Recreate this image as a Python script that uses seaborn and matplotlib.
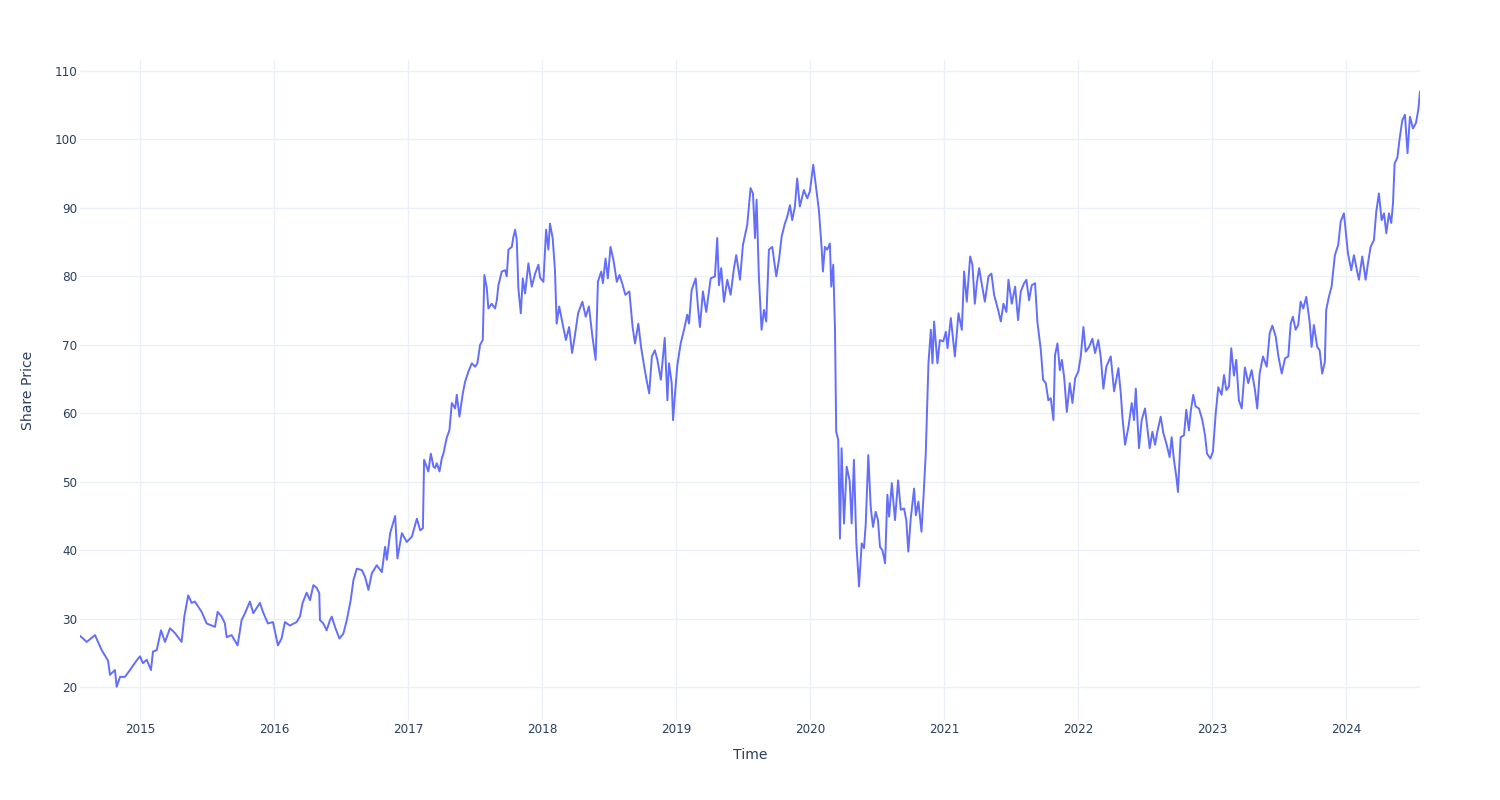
import numpy as np
import pandas as pd
import matplotlib
matplotlib.use("Agg")
import matplotlib.pyplot as plt
import matplotlib.dates as mdates
import seaborn as sns

# Decimal-year time stamps and share prices
year_2014 = [0.552, 0.602, 0.664, 0.714, 0.761, 0.776, 0.813, 0.826, 0.851, 0.888, 0.925, 0.975]
price_2014 = [27.5, 26.6, 27.6, 25.4, 23.9, 21.8, 22.5, 20.05, 21.5, 21.5, 22.5, 23.9]

year_2015 = [0.000, 0.022, 0.050, 0.082, 0.097, 0.125, 0.157, 0.187, 0.224, 0.261, 0.311, 0.331,
             0.360, 0.386, 0.410, 0.460, 0.498, 0.560, 0.580, 0.610, 0.634, 0.647, 0.684, 0.729,
             0.759, 0.784, 0.821, 0.846, 0.896, 0.918, 0.955, 0.993]
price_2015 = [24.5, 23.5, 24.0, 22.5, 25.2, 25.4, 28.3, 26.6, 28.6, 27.9, 26.6, 30.3,
              33.4, 32.3, 32.5, 31.0, 29.3, 28.8, 31.0, 30.3, 29.3, 27.3, 27.6, 26.1,
              29.8, 30.8, 32.5, 30.8, 32.3, 31.0, 29.3, 29.5]

year_2016 = [0.030, 0.057, 0.082, 0.119, 0.169, 0.194, 0.214, 0.244, 0.269, 0.294, 0.319, 0.338,
             0.343, 0.368, 0.393, 0.418, 0.431, 0.455, 0.488, 0.517, 0.543, 0.572, 0.592, 0.617,
             0.655, 0.679, 0.704, 0.729, 0.766, 0.804, 0.828, 0.841, 0.866, 0.903, 0.920, 0.953, 0.990]
price_2016 = [26.1, 27.1, 29.5, 29.0, 29.5, 30.3, 32.3, 33.8, 32.7, 34.9, 34.5, 33.7,
              29.8, 29.3, 28.3, 29.8, 30.3, 28.8, 27.1, 27.8, 29.8, 32.7, 35.6, 37.3,
              37.1, 36.1, 34.2, 36.6, 37.8, 36.8, 40.5, 38.6, 42.5, 45.0, 38.8, 42.5, 41.2]

year_2017 = [0.028, 0.065, 0.090, 0.110, 0.119, 0.151, 0.169, 0.189, 0.201, 0.214, 0.234, 0.251,
             0.263, 0.289, 0.308, 0.326, 0.351, 0.363, 0.383, 0.408, 0.425, 0.450, 0.475, 0.500,
             0.517, 0.537, 0.557, 0.569, 0.587, 0.599, 0.624, 0.649, 0.662, 0.674, 0.699, 0.724,
             0.736, 0.749, 0.774, 0.786, 0.799, 0.811, 0.823, 0.841, 0.856, 0.873, 0.898, 0.923,
             0.948, 0.973, 0.985]
price_2017 = [42.0, 44.6, 42.9, 43.2, 53.2, 51.5, 54.1, 52.2, 52.0, 52.7, 51.5, 53.4,
              54.1, 56.5, 57.5, 61.5, 60.7, 62.7, 59.5, 62.9, 64.6, 66.1, 67.3, 66.8,
              67.3, 70.0, 70.7, 80.2, 78.3, 75.3, 76.0, 75.3, 76.5, 78.7, 80.7, 80.9,
              80.0, 83.9, 84.3, 85.8, 86.8, 85.3, 78.3, 74.6, 79.7, 77.5, 81.9, 78.5,
              80.4, 81.7, 79.8]

year_2018 = [0.010, 0.030, 0.047, 0.059, 0.079, 0.096, 0.109, 0.128, 0.153, 0.178, 0.202, 0.224,
             0.244, 0.269, 0.301, 0.326, 0.350, 0.376, 0.400, 0.417, 0.442, 0.454, 0.474, 0.491,
             0.511, 0.533, 0.558, 0.578, 0.598, 0.622, 0.652, 0.676, 0.694, 0.719, 0.739, 0.763,
             0.780, 0.800, 0.820, 0.842, 0.861, 0.887, 0.916, 0.936, 0.948, 0.968, 0.978, 0.993]
price_2018 = [79.2, 86.8, 83.9, 87.7, 85.6, 81.0, 73.1, 75.6, 73.1, 70.7, 72.6, 68.8,
              71.2, 74.6, 76.3, 74.1, 75.6, 71.2, 67.8, 79.2, 80.7, 79.0, 82.6, 79.7,
              84.3, 82.4, 79.2, 80.2, 79.0, 77.3, 77.8, 72.6, 70.2, 73.1, 69.7, 66.8,
              64.9, 62.9, 68.3, 69.2, 67.8, 64.9, 71.0, 61.9, 67.3, 64.4, 59.0, 62.9]

year_2019 = [0.010, 0.035, 0.060, 0.084, 0.097, 0.117, 0.147, 0.166, 0.179, 0.201, 0.226, 0.259,
             0.291, 0.308, 0.321, 0.338, 0.358, 0.383, 0.408, 0.433, 0.450, 0.478, 0.500, 0.532,
             0.557, 0.575, 0.590, 0.602, 0.619, 0.639, 0.657, 0.674, 0.694, 0.719, 0.749, 0.769,
             0.789, 0.813, 0.831, 0.851, 0.868, 0.888, 0.905, 0.925, 0.955, 0.980]
price_2019 = [67.0, 70.2, 72.2, 74.4, 73.1, 78.0, 79.7, 75.1, 72.6, 77.8, 74.8, 79.7,
              80.0, 85.6, 78.7, 81.2, 76.3, 79.5, 77.3, 81.2, 83.1, 79.5, 84.6, 87.5,
              92.9, 92.1, 85.6, 91.2, 80.0, 72.2, 75.1, 73.4, 83.9, 84.3, 80.0, 82.4,
              85.8, 87.7, 88.7, 90.4, 88.2, 90.2, 94.3, 90.2, 92.6, 91.4]

year_2020 = [0.000, 0.025, 0.042, 0.067, 0.087, 0.097, 0.112, 0.129, 0.149, 0.159, 0.174, 0.187,
             0.196, 0.211, 0.224, 0.236, 0.254, 0.274, 0.296, 0.311, 0.328, 0.346, 0.366, 0.386,
             0.403, 0.416, 0.435, 0.453, 0.470, 0.490, 0.507, 0.522, 0.540, 0.560, 0.577, 0.590,
             0.610, 0.634, 0.657, 0.677, 0.701, 0.718, 0.733, 0.751, 0.776, 0.789, 0.808, 0.831,
             0.846, 0.863, 0.883, 0.901, 0.913, 0.925, 0.950, 0.968, 0.993]
price_2020 = [92.4, 96.3, 93.6, 89.7, 84.3, 80.7, 84.3, 83.9, 84.8, 78.5, 81.7, 72.2,
              57.3, 56.1, 41.7, 54.9, 43.9, 52.2, 50.2, 43.9, 53.2, 41.0, 34.7, 41.0,
              40.3, 43.9, 53.9, 46.3, 43.4, 45.6, 44.4, 40.5, 40.0, 38.1, 48.1, 44.9,
              49.8, 44.4, 50.2, 45.9, 46.1, 44.4, 39.8, 44.6, 49.0, 45.1, 47.1, 42.7,
              47.8, 54.1, 67.3, 72.2, 67.3, 73.4, 67.3, 70.7, 70.5]

year_2021 = [0.013, 0.025, 0.050, 0.080, 0.107, 0.132, 0.149, 0.169, 0.194, 0.211, 0.229, 0.244,
             0.261, 0.278, 0.304, 0.331, 0.353, 0.373, 0.403, 0.423, 0.443, 0.465, 0.480, 0.505,
             0.530, 0.552, 0.572, 0.597, 0.614, 0.634, 0.654, 0.679, 0.696, 0.722, 0.739, 0.759,
             0.778, 0.796, 0.816, 0.828, 0.846, 0.864, 0.879, 0.896, 0.916, 0.938, 0.958, 0.978]
price_2021 = [71.9, 69.5, 73.9, 68.3, 74.6, 72.2, 80.7, 76.3, 82.9, 81.7, 76.0, 79.0,
              81.2, 79.2, 76.3, 80.0, 80.4, 77.3, 75.1, 73.4, 76.0, 74.8, 79.5, 76.0,
              78.5, 73.6, 77.8, 79.0, 79.5, 76.5, 78.7, 79.0, 73.4, 69.2, 64.9, 64.4,
              61.9, 62.2, 59.0, 68.5, 70.2, 66.3, 67.8, 65.3, 60.2, 64.4, 61.5, 65.1]

year_2022 = [0.002, 0.020, 0.040, 0.057, 0.082, 0.107, 0.127, 0.151, 0.169, 0.189, 0.211, 0.244,
             0.269, 0.301, 0.319, 0.331, 0.351, 0.376, 0.401, 0.418, 0.431, 0.455, 0.475, 0.500,
             0.535, 0.555, 0.575, 0.592, 0.617, 0.637, 0.659, 0.684, 0.699, 0.716, 0.734, 0.746,
             0.766, 0.791, 0.808, 0.828, 0.841, 0.860, 0.878, 0.903, 0.928, 0.948, 0.963, 0.988]
price_2022 = [66.1, 68.3, 72.6, 69.0, 69.7, 70.9, 68.8, 70.7, 68.3, 63.6, 66.8, 68.3,
              63.2, 66.6, 62.9, 59.5, 55.4, 58.0, 61.5, 59.0, 63.6, 54.9, 59.0, 60.7,
              54.9, 57.3, 55.4, 57.3, 59.5, 57.1, 55.6, 53.6, 56.5, 53.2, 50.7, 48.5,
              56.5, 56.8, 60.5, 57.5, 60.2, 62.7, 61.0, 60.7, 59.0, 56.8, 54.1, 53.4]

year_2023 = [0.007, 0.028, 0.047, 0.072, 0.090, 0.107, 0.127, 0.144, 0.164, 0.181, 0.201, 0.222,
             0.246, 0.271, 0.296, 0.321, 0.338, 0.356, 0.381, 0.409, 0.431, 0.451, 0.476, 0.496,
             0.521, 0.545, 0.570, 0.588, 0.604, 0.625, 0.644, 0.662, 0.682, 0.704, 0.729, 0.744,
             0.761, 0.786, 0.804, 0.823, 0.843, 0.853, 0.873, 0.893, 0.918, 0.943, 0.961, 0.985, 0.998]
price_2023 = [54.4, 60.0, 63.8, 62.7, 65.6, 63.4, 63.9, 69.5, 65.5, 67.8, 61.9, 60.7,
              66.7, 64.4, 66.3, 63.4, 60.7, 65.8, 68.3, 66.8, 71.7, 72.8, 71.2, 68.3,
              65.8, 68.0, 68.3, 73.1, 74.1, 72.2, 72.9, 76.3, 75.3, 77.0, 73.4, 69.7,
              72.9, 69.7, 69.2, 65.8, 67.5, 75.1, 77.0, 78.5, 83.1, 84.6, 88.0, 89.2, 86.8]

year_2024 = [0.015, 0.040, 0.060, 0.077, 0.097, 0.122, 0.147, 0.166, 0.184, 0.209, 0.226, 0.246,
             0.266, 0.284, 0.301, 0.321, 0.338, 0.351, 0.363, 0.383, 0.401, 0.420, 0.440, 0.459,
             0.477, 0.500, 0.522, 0.539, 0.552]
price_2024 = [83.4, 80.9, 83.1, 81.4, 79.5, 82.9, 79.5, 82.1, 84.3, 85.3, 89.4, 92.1,
              88.2, 89.2, 86.3, 89.2, 87.8, 90.7, 96.5, 97.3, 100.2, 102.8, 103.6, 98.0,
              103.3, 101.6, 102.4, 104.3, 107.0]

segments = [(2014, year_2014, price_2014), (2015, year_2015, price_2015),
            (2016, year_2016, price_2016), (2017, year_2017, price_2017),
            (2018, year_2018, price_2018), (2019, year_2019, price_2019),
            (2020, year_2020, price_2020), (2021, year_2021, price_2021),
            (2022, year_2022, price_2022), (2023, year_2023, price_2023),
            (2024, year_2024, price_2024)]

dates, prices = [], []
for yr, fracs, vals in segments:
    start = pd.Timestamp(year=yr, month=1, day=1)
    length = (pd.Timestamp(year=yr + 1, month=1, day=1) - start).days
    for f, v in zip(fracs, vals):
        dates.append(start + pd.Timedelta(days=f * length))
        prices.append(v)

df = pd.DataFrame({"Time": dates, "Share Price": prices})

sns.set_theme(style="white")
plt.rcParams["font.family"] = ["DejaVu Sans"]

text_color = "#2a3f5f"
grid_color = "#EBF0F8"
line_color = "#636EFA"

fig = plt.figure(figsize=(15, 8), dpi=100)
ax = fig.add_axes([80 / 1500, 1 - 720 / 800, 1340 / 1500, 660 / 800])

sns.lineplot(data=df, x="Time", y="Share Price", ax=ax, color=line_color,
             linewidth=1.4, estimator=None, sort=False)

ax.set_xlim(df["Time"].min(), df["Time"].max())
ax.set_ylim(15.2, 111.6)
ax.set_yticks(np.arange(20, 111, 10))
ax.xaxis.set_major_locator(mdates.YearLocator())
ax.xaxis.set_major_formatter(mdates.DateFormatter("%Y"))

ax.grid(True, color=grid_color, linewidth=1)
ax.set_axisbelow(True)
for s in ax.spines.values():
    s.set_visible(False)
ax.tick_params(axis="both", length=0, labelsize=8.64, labelcolor=text_color)
ax.tick_params(axis="x", pad=2)
ax.tick_params(axis="y", pad=2)

ax.set_xlabel("Time", fontsize=10.08, color=text_color, labelpad=9)
ax.set_ylabel("Share Price", fontsize=10.08, color=text_color, labelpad=14)

fig.savefig("out.png", dpi=100, facecolor="white")
